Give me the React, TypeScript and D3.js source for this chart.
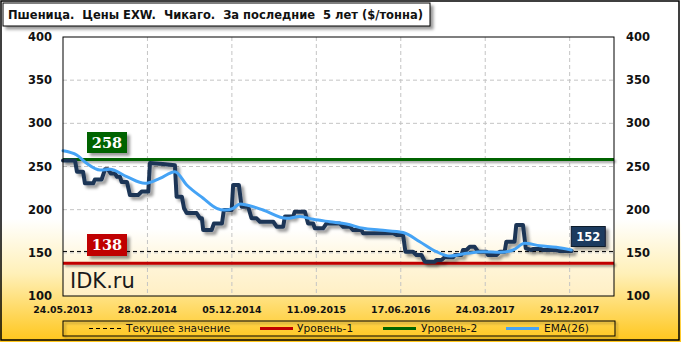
import React from "react";
import * as d3 from "d3";

const W = 681;
const H = 342;

const titleText = "Пшеница.  Цены EXW.  Чикаго.  За последние  5 лет ($/тонна)";

// x axis: weeks since 24.05.2013
const xTickWeeks = [0, 40, 80, 120, 160, 200, 240];
const xTickLabels = ["24.05.2013", "28.02.2014", "05.12.2014", "11.09.2015", "17.06.2016", "24.03.2017", "29.12.2017"];
const yTicks = [100, 150, 200, 250, 300, 350, 400];

// price (weekly, step-like)
const priceWeeks = [0, 5.7, 6.6, 9.5, 10.4, 14.3, 15.1, 18.3, 19.9, 21.3, 22.6, 24.6, 25.6, 27.0, 27.8, 30.3, 31.7, 35.6, 37.3, 40.4, 41.2, 47.3, 53.0, 53.8, 56.3, 57.3, 58.6, 63.3, 64.9, 65.8, 66.4, 70.4, 71.5, 75.3, 76.2, 79.9, 80.6, 83.3, 84.6, 87.7, 89.3, 91.7, 93.3, 99.6, 101.2, 104.3, 105.1, 109.0, 109.8, 114.6, 116.1, 118.5, 119.3, 123.2, 124.8, 131.1, 132.7, 135.9, 137.4, 141.4, 142.2, 156.4, 158.0, 161.1, 162.2, 165.8, 167.4, 169.8, 171.4, 176.1, 176.9, 179.3, 180.8, 184.8, 185.6, 188.7, 189.5, 191.1, 192.7, 195.0, 196.6, 200.6, 201.3, 205.3, 206.9, 209.2, 210.0, 213.9, 214.7, 217.9, 219.2, 221.9, 222.5, 226.6, 227.2, 233.7, 235.3, 241.0];
const priceValues = [257, 257, 244, 244, 230.5, 230.5, 235, 235, 246.7, 246.7, 242, 242, 238, 238, 232, 232, 217, 217, 221, 221, 254, 253, 251.5, 215, 215, 202, 196, 196, 190, 190, 176.5, 176.5, 184, 184, 199.6, 199.6, 228.6, 228.6, 203.5, 203.5, 190, 190, 186, 186, 180.3, 180.3, 192, 192, 197.7, 197.7, 184, 184, 178.4, 178.4, 184, 184, 180.3, 180.3, 176.4, 176.4, 172.6, 172.6, 170.6, 170.6, 151.3, 151.3, 147.5, 147.5, 139.7, 139.7, 141.7, 141.7, 144.8, 144.8, 147.5, 147.5, 153.3, 153.3, 157, 157, 151.3, 151.3, 147.5, 147.5, 151.3, 151.3, 162.9, 162.9, 182.2, 182.2, 155.2, 153.3, 154.5, 154.5, 153.3, 153.3, 152, 152];

// EMA(26)
const emaWeeks = [0, 6.5, 11.2, 17.5, 22.2, 30.2, 38.8, 45.9, 53.0, 58.6, 66.4, 72.8, 76.7, 80.6, 83.8, 87.0, 94.8, 105.9, 112.2, 118.5, 126.4, 134.3, 142.2, 150.1, 161.1, 169.0, 176.9, 183.2, 191.1, 199.0, 206.9, 213.2, 218.7, 225.8, 233.7, 240.8];
const emaValues = [268.3, 263.3, 253.7, 246, 246.7, 238.2, 230.5, 236.3, 244, 228.6, 213.2, 201.6, 199.6, 201.6, 206.6, 205.4, 199.6, 190, 192, 188.8, 186, 183.4, 178.4, 176.4, 173.5, 162.9, 151.3, 146.3, 149.4, 151.3, 150.6, 153.3, 161, 158.3, 156.4, 153.3];

const level1 = 138;
const level2 = 258;
const currentValue = 151.6;

const legendLabels = ["Текущее значение", "Уровень-1", "Уровень-2", "EMA(26)"];

const C = {
  price: "#1d3657",
  ema: "#45a3f5",
  red: "#c00000",
  green: "#006400",
  navy: "#1f3a5f",
};

export default function App() {
  const m = { l: 63, r: 614, t: 37, b: 296 };
  const x = d3.scaleLinear().domain([0, 261]).range([m.l, m.r]);
  const y = d3.scaleLinear().domain([100, 400]).range([m.b, m.t]);

  const priceLine = d3
    .line<number>()
    .x((_, i) => x(priceWeeks[i]))
    .y((d) => y(d))
    .curve(d3.curveLinear)(priceValues) as string;
  const emaLine = d3
    .line<number>()
    .x((_, i) => x(emaWeeks[i]))
    .y((d) => y(d))
    .curve(d3.curveMonotoneX)(emaValues) as string;

  const lastX = x(priceWeeks[priceWeeks.length - 1]);

  const legendItems = [
    { lx: 89, tx: 126, kind: "dash", color: "#000" },
    { lx: 260, tx: 297, kind: "solid", color: C.red },
    { lx: 383, tx: 421, kind: "solid", color: C.green },
    { lx: 506, tx: 544, kind: "solid", color: C.ema },
  ];
  const ly = 328.5;

  return (
    <svg width={W} height={H} style={{ position: "fixed", left: 0, top: 0, display: "block" }}>
      <defs>
        <linearGradient id="bg" x1="0" y1="0" x2="0" y2="1">
          <stop offset="0" stopColor="#ffffff" />
          <stop offset="0.64" stopColor="#ffffff" />
          <stop offset="0.8" stopColor="#fff0b8" />
          <stop offset="1" stopColor="#ffc61a" />
        </linearGradient>
        <linearGradient id="pbg" x1="0" y1="0" x2="0" y2="1">
          <stop offset="0" stopColor="#ffffff" />
          <stop offset="0.74" stopColor="#ffffff" />
          <stop offset="0.86" stopColor="#fff6dc" />
          <stop offset="1" stopColor="#ffefc4" />
        </linearGradient>
        <filter id="sh" filterUnits="userSpaceOnUse" x="0" y="0" width={W} height={H}>
          <feDropShadow dx="2" dy="2" stdDeviation="1.2" floodColor="#000" floodOpacity="0.35" />
        </filter>
        <filter id="shb" filterUnits="userSpaceOnUse" x="0" y="0" width={W} height={H}>
          <feDropShadow dx="3" dy="3" stdDeviation="1.5" floodColor="#000" floodOpacity="0.4" />
        </filter>
      </defs>
      <rect x={0} y={0} width={W} height={H} fill="url(#bg)" />
      <rect x={1} y={1} width={678} height={339} fill="none" stroke="#000" strokeWidth={1.5} />

      {/* title */}
      <rect x={3} y={3} width={427} height={23} fill="#fff" stroke="#000" strokeWidth={1} filter="url(#shb)" />
      <text x={8} y={19} fontFamily="DejaVu Sans" fontWeight="bold" fontSize={11.5} fill="#111" style={{ whiteSpace: "pre" }}>
        {titleText}
      </text>

      {/* plot bg */}
      <rect x={m.l} y={m.t} width={m.r - m.l} height={m.b - m.t} fill="url(#pbg)" />

      {/* grid */}
      {yTicks.filter((t) => t > 100 && t < 400).map((t) => (
        <line key={"gy" + t} x1={m.l} x2={m.r} y1={y(t)} y2={y(t)} stroke="#c4c4c4" strokeDasharray="4,3" />
      ))}
      {xTickWeeks.filter((w) => w > 0).map((w) => (
        <line key={"gx" + w} x1={x(w)} x2={x(w)} y1={m.t} y2={m.b} stroke="#c4c4c4" strokeDasharray="4,3" />
      ))}

      {/* levels */}
      <line x1={m.l} x2={m.r} y1={y(level2)} y2={y(level2)} stroke={C.green} strokeWidth={3} filter="url(#sh)" />
      <line x1={m.l} x2={m.r} y1={y(level1)} y2={y(level1)} stroke={C.red} strokeWidth={3} filter="url(#sh)" />
      <line x1={m.l} x2={m.r} y1={y(currentValue)} y2={y(currentValue)} stroke="#000" strokeWidth={1} strokeDasharray="4,3" />

      {/* IDK */}
      <text x={70} y={288} fontFamily="DejaVu Sans" fontSize={21} fill="#1a1a1a">IDK.ru</text>

      {/* series */}
      <path d={priceLine} fill="none" stroke={C.price} strokeWidth={4} strokeLinejoin="round" strokeLinecap="round" filter="url(#shb)" />
      <path d={emaLine} fill="none" stroke={C.ema} strokeWidth={3} strokeLinejoin="round" strokeLinecap="round" />

      {/* plot frame */}
      <rect x={m.l} y={m.t} width={m.r - m.l} height={m.b - m.t} fill="none" stroke="#000" strokeWidth={1} />

      {/* level labels */}
      <rect x={87} y={132} width={40} height={21} fill={C.green} filter="url(#shb)" />
      <text x={107} y={148} textAnchor="middle" fontFamily="DejaVu Serif" fontWeight="bold" fontSize={14.5} fill="#fff">{level2}</text>
      <rect x={87} y={234} width={40} height={22} fill={C.red} filter="url(#shb)" />
      <text x={107} y={250} textAnchor="middle" fontFamily="DejaVu Serif" fontWeight="bold" fontSize={14.5} fill="#fff">{level1}</text>

      {/* current value label */}
      <rect x={lastX - 0.5} y={226.5} width={34} height={20} fill={C.navy} stroke="#0d1a2c" strokeWidth={1} filter="url(#shb)" />
      <text x={lastX + 16.5} y={241} textAnchor="middle" fontFamily="DejaVu Sans" fontWeight="bold" fontSize={11.5} fill="#fff">{Math.round(currentValue)}</text>

      {/* y labels */}
      {yTicks.map((t) => (
        <g key={"yl" + t}>
          <text x={52} y={y(t)} dy="0.36em" textAnchor="end" fontFamily="DejaVu Sans" fontWeight="bold" fontSize={11.5} fill="#111">{t}</text>
          <text x={626} y={y(t)} dy="0.36em" textAnchor="start" fontFamily="DejaVu Sans" fontWeight="bold" fontSize={11.5} fill="#111">{t}</text>
        </g>
      ))}
      {/* x labels */}
      {xTickWeeks.map((w, i) => (
        <text key={"xl" + w} x={x(w)} y={313} textAnchor="middle" fontFamily="DejaVu Sans" fontWeight="bold" fontSize={9.4} fill="#111">{xTickLabels[i]}</text>
      ))}

      {/* legend */}
      <rect x={63} y={321} width={552} height={15} fill="none" stroke="#000" strokeWidth={1} filter="url(#sh)" />
      {legendItems.map((it, i) => (
        <g key={"lg" + i}>
          {it.kind === "dash" ? (
            <line x1={it.lx} x2={it.lx + 32} y1={ly} y2={ly} stroke="#000" strokeWidth={1} strokeDasharray="4,3" />
          ) : (
            <line x1={it.lx} x2={it.lx + 33} y1={ly} y2={ly} stroke={it.color} strokeWidth={3} />
          )}
          <text x={it.tx} y={ly} dy="0.36em" fontFamily="DejaVu Sans" fontSize={10.6} fill="#111">{legendLabels[i]}</text>
        </g>
      ))}
    </svg>
  );
}
